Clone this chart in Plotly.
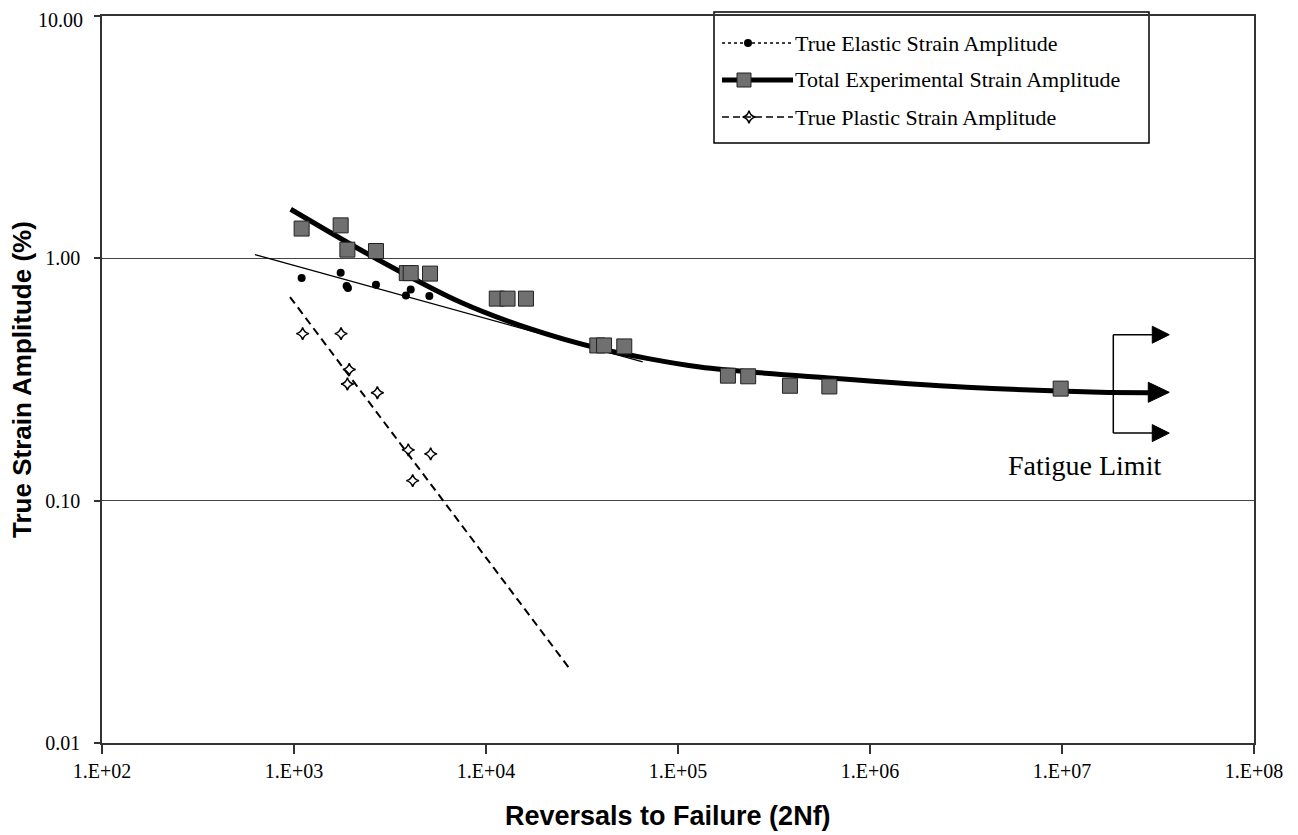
import math
import plotly.graph_objects as go

# ---------------- data ----------------
x_tick_vals = [1e2, 1e3, 1e4, 1e5, 1e6, 1e7, 1e8]
x_tick_text = ["1.E+02", "1.E+03", "1.E+04", "1.E+05", "1.E+06", "1.E+07", "1.E+08"]
y_tick_vals = [0.01, 0.1, 1, 10]
y_tick_text = ["0.01", "0.10", "1.00", "10.00"]

elastic_x = [1096, 1750, 1880, 1910, 2673, 3828, 4055, 5070]
elastic_y = [0.830, 0.873, 0.768, 0.755, 0.778, 0.703, 0.743, 0.699]

total_x = [1096, 1750, 1897, 2673, 3867, 4055, 5110, 11380, 12950, 16150,
           38000, 41200, 52500, 182000, 232000, 383000, 614000, 9.84e6]
total_y = [1.327, 1.368, 1.086, 1.072, 0.869, 0.869, 0.865, 0.682, 0.682, 0.682,
           0.437, 0.437, 0.433, 0.328, 0.326, 0.298, 0.296, 0.290]

plastic_x = [1109, 1758, 1940, 1897, 2717, 3937, 5150, 4150]
plastic_y = [0.489, 0.489, 0.348, 0.303, 0.279, 0.162, 0.156, 0.121]

elastic_fit_x = [626, 65500]
elastic_fit_y = [1.036, 0.374]

plastic_fit_x = [953, 27200]
plastic_fit_y = [0.692, 0.0203]

total_curve_x = [961, 2489, 7330, 16300, 39300, 130000, 644000, 3.18e6, 1.58e7, 2.9e7]
total_curve_y = [1.594, 1.03, 0.660, 0.5175, 0.4237, 0.356, 0.320, 0.294, 0.280, 0.279]

fatigue_stem_x = 1.85e7
fatigue_levels = [0.484, 0.280, 0.190]
fatigue_tip_x = 3.62e7

legend_names = ["True Elastic Strain Amplitude",
                "Total Experimental Strain Amplitude",
                "True Plastic Strain Amplitude"]

# ---------------- layout constants (page pixels) ----------------
PAGE_W, PAGE_H = 1298, 835
OFF = 8                      # default body margin of the html page
W, H = PAGE_W - OFF, PAGE_H - OFF
PL, PR, PT, PB = 102, 1254, 16, 743   # plot area in page pixels
PW, PH = PR - PL, PB - PT
ML, MT = PL - OFF, PT - OFF
MR = W - ML - PW
MB = H - MT - PH
XR = [2, 8]
YR = [-2, 1]
SERIF = "Liberation Serif, Times New Roman, serif"
SANS = "Liberation Sans, Arial, sans-serif"


def px2paper(px, py):
    return (px - PL) / PW, (PB - py) / PH


def data2paper(x, y):
    return ((math.log10(x) - XR[0]) / (XR[1] - XR[0]),
            (math.log10(y) - YR[0]) / (YR[1] - YR[0]))


fig = go.Figure()

# fitted lines
fig.add_trace(go.Scatter(x=elastic_fit_x, y=elastic_fit_y, mode="lines",
                         line=dict(color="black", width=1.3), showlegend=False,
                         hoverinfo="skip"))
fig.add_trace(go.Scatter(x=plastic_fit_x, y=plastic_fit_y, mode="lines",
                         line=dict(color="black", width=2, dash="8px,5px"),
                         showlegend=False, hoverinfo="skip"))
fig.add_trace(go.Scatter(x=total_curve_x, y=total_curve_y, mode="lines",
                         line=dict(color="black", width=5, shape="spline", smoothing=0.8),
                         showlegend=False, hoverinfo="skip"))

# data points
fig.add_trace(go.Scatter(x=total_x, y=total_y, mode="markers", name=legend_names[1],
                         marker=dict(symbol="square", size=15, color="#707070",
                                     line=dict(color="#222", width=1)),
                         showlegend=False))
fig.add_trace(go.Scatter(x=elastic_x, y=elastic_y, mode="markers", name=legend_names[0],
                         marker=dict(symbol="circle", size=8, color="black"),
                         showlegend=False))
fig.add_trace(go.Scatter(x=plastic_x, y=plastic_y, mode="markers", name=legend_names[2],
                         marker=dict(symbol="star-diamond-open", size=9, color="black",
                                     line=dict(color="black", width=1.5)),
                         showlegend=False))

shapes = []
# fatigue limit bracket
sx, sy_top = data2paper(fatigue_stem_x, fatigue_levels[0])
_, sy_bot = data2paper(fatigue_stem_x, fatigue_levels[2])
shapes.append(dict(type="line", xref="paper", yref="paper", x0=sx, x1=sx,
                   y0=sy_top, y1=sy_bot, line=dict(color="black", width=1.5)))
tip_px = PL + (math.log10(fatigue_tip_x) - XR[0]) / (XR[1] - XR[0]) * PW
for i, lvl in enumerate(fatigue_levels):
    big = (i == 1)
    alen = 21 if big else 17
    ahh = 10 if big else 8.5
    base_x = (tip_px - alen - PL) / PW
    tip_x = (tip_px - PL) / PW
    _, ly = data2paper(fatigue_stem_x, lvl)
    hh = ahh / PH
    if not big:
        shapes.append(dict(type="line", xref="paper", yref="paper", x0=sx, x1=base_x + 1 / PW,
                           y0=ly, y1=ly, line=dict(color="black", width=1.5)))
    shapes.append(dict(type="path", xref="paper", yref="paper",
                       path=f"M {base_x} {ly - hh} L {tip_x} {ly} L {base_x} {ly + hh} Z",
                       fillcolor="black", line=dict(color="black", width=1)))

# legend box (manual, pixel placed)
bx0, by0 = px2paper(714, 12)
bx1, by1 = px2paper(1149, 143)
shapes.append(dict(type="rect", xref="paper", yref="paper", x0=bx0, x1=bx1, y0=by1, y1=by0,
                   fillcolor="white", line=dict(color="black", width=1.5), layer="between"))
rows_py = [43, 80, 117]
line_styles = [dict(color="black", width=1.3, dash="dot"),
               dict(color="black", width=5),
               dict(color="black", width=1.5, dash="7px,4px")]
lx0, _ = px2paper(722, 0)
lx1, _ = px2paper(793, 0)
for py, ls in zip(rows_py, line_styles):
    _, ly = px2paper(0, py)
    shapes.append(dict(type="line", xref="paper", yref="paper", x0=lx0, x1=lx1, y0=ly, y1=ly,
                       line=ls, layer="between"))

# legend marker samples on an overlay axis (paper-like 0..1)
mk_x = [px2paper(748, 0)[0], px2paper(744, 0)[0], px2paper(749, 0)[0]]
mk_y = [px2paper(0, p)[1] for p in rows_py]
fig.add_trace(go.Scatter(x=[mk_x[0]], y=[mk_y[0]], xaxis="x2", yaxis="y2", mode="markers",
                         marker=dict(symbol="circle", size=8, color="black"),
                         showlegend=False, cliponaxis=False, hoverinfo="skip"))
fig.add_trace(go.Scatter(x=[mk_x[1]], y=[mk_y[1]], xaxis="x2", yaxis="y2", mode="markers",
                         marker=dict(symbol="square", size=14, color="#707070",
                                     line=dict(color="#222", width=1)),
                         showlegend=False, cliponaxis=False, hoverinfo="skip"))
fig.add_trace(go.Scatter(x=[mk_x[2]], y=[mk_y[2]], xaxis="x2", yaxis="y2", mode="markers",
                         marker=dict(symbol="star-diamond-open", size=9, color="black",
                                     line=dict(color="black", width=1.5)),
                         showlegend=False, cliponaxis=False, hoverinfo="skip"))

annotations = []
tx, _ = px2paper(793, 0)
for name, py in zip(legend_names, rows_py):
    _, ty = px2paper(0, py)
    annotations.append(dict(xref="paper", yref="paper", x=tx, y=ty, text=name,
                            xanchor="left", yanchor="middle", showarrow=False,
                            font=dict(family=SERIF, size=22, color="black")))

# top y tick label placed so it stays inside the page
top_x, top_y = px2paper(84, 8)
annotations.append(dict(xref="paper", yref="paper", x=top_x, y=top_y, text=y_tick_text[-1],
                        xanchor="right", yanchor="top", showarrow=False, borderpad=0,
                        font=dict(family=SERIF, size=20, color="black")))

# Fatigue limit label
fx, fy = px2paper(1163, 465)
annotations.append(dict(xref="paper", yref="paper", x=fx, y=fy, text="Fatigue Limit",
                        xanchor="right", yanchor="middle", showarrow=False,
                        font=dict(family=SERIF, size=28, color="black")))

# axis titles
ax_x, ax_y = px2paper(668, 816)
annotations.append(dict(xref="paper", yref="paper", x=ax_x, y=ax_y,
                        text="<b>Reversals to Failure (2Nf)</b>",
                        xanchor="center", yanchor="middle", showarrow=False,
                        font=dict(family=SANS, size=27, color="black")))
ay_x, ay_y = px2paper(22, 380)
annotations.append(dict(xref="paper", yref="paper", x=ay_x, y=ay_y,
                        text="<b>True Strain Amplitude (%)</b>", textangle=-90,
                        xanchor="center", yanchor="middle", showarrow=False,
                        font=dict(family=SANS, size=26, color="black")))

fig.update_layout(
    width=W, height=H,
    margin=dict(l=ML, r=MR, t=MT, b=MB, autoexpand=False),
    paper_bgcolor="white", plot_bgcolor="white",
    showlegend=False,
    shapes=shapes, annotations=annotations,
    xaxis=dict(type="log", range=XR, tickvals=x_tick_vals, ticktext=x_tick_text,
               ticks="outside", ticklen=9, tickwidth=1.5, tickcolor="#333",
               showgrid=False, zeroline=False, showline=True, linecolor="#333",
               linewidth=1.5, mirror=True, ticklabelstandoff=0, automargin=False,
               ticklabeloverflow="allow",
               tickfont=dict(family=SERIF, size=20, color="black")),
    yaxis=dict(type="log", range=YR, tickvals=y_tick_vals,
               ticktext=y_tick_text[:-1] + [""],
               ticks="outside", ticklen=6, tickwidth=1.5, tickcolor="#333",
               showgrid=True, gridcolor="#444", gridwidth=1,
               zeroline=False, showline=True, linecolor="#333",
               linewidth=1.5, mirror=True, ticklabelstandoff=10, automargin=False,
               ticklabeloverflow="allow",
               tickfont=dict(family=SERIF, size=20, color="black")),
    xaxis2=dict(overlaying="x", range=[0, 1], visible=False, fixedrange=True),
    yaxis2=dict(overlaying="y", range=[0, 1], visible=False, fixedrange=True),
)

fig.write_html("out.html")
